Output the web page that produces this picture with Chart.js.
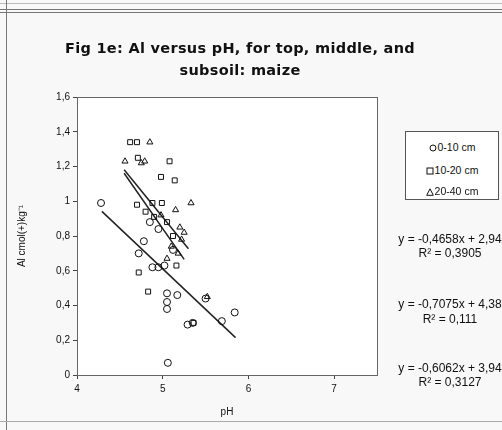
<!DOCTYPE html>
<html>
<head>
<meta charset="utf-8">
<script src="https://cdn.jsdelivr.net/npm/chart.js@4.4.1/dist/chart.umd.min.js"></script>
<style>
  body { margin: 0; background: #f8f8f8; font-family: "Liberation Sans", Arial, sans-serif; color: #111; }
  #wrap { position: relative; width: 502px; height: 430px; overflow: hidden; }
  canvas { position: absolute; left: 0; top: 0; }
  .t { position: absolute; white-space: nowrap; }
  .title { left: 0; width: 480px; text-align: center; font-family: "DejaVu Sans", sans-serif; font-size: 14.5px; font-weight: bold; letter-spacing: 0.3px; line-height: 16px; }
  .eq { width: 130px; text-align: center; font-size: 12px; line-height: 14px; }
  #legend { position: absolute; left: 405px; top: 131px; width: 92px; height: 67px; border: 1px solid #555; background: #fff; }
  #legend div { position: absolute; left: 0; width: 92px; text-align: center; font-size: 10.5px; line-height: 12px; white-space: nowrap; }
  #legend svg { vertical-align: -1px; margin-right: 1px; }
  .line { position: absolute; background: #777; }
</style>
</head>
<body>
<div id="wrap">
  <canvas id="c" width="502" height="430"></canvas>
  <div class="line" style="left:0;top:3px;width:502px;height:1px;background:#bbb"></div>
  <div class="line" style="left:0;top:9px;width:502px;height:1px"></div>
  <div class="line" style="left:0;top:12px;width:502px;height:1px"></div>
  <div class="line" style="left:6px;top:0;width:1px;height:430px"></div>
  <div class="line" style="left:0;top:421px;width:502px;height:1px;background:#aaa"></div>
  <div class="t title" style="top:40px">Fig 1e: Al versus pH, for top, middle, and</div>
  <div class="t title" style="top:62px">subsoil: maize</div>
  <div id="legend">
    <div style="top:9px"><svg width="8" height="8"><circle cx="4" cy="4" r="3" fill="none" stroke="#111"/></svg>0-10 cm</div>
    <div style="top:32px"><svg width="8" height="8"><rect x="1" y="1" width="6" height="6" fill="none" stroke="#111"/></svg>10-20 cm</div>
    <div style="top:53px"><svg width="8" height="8"><path d="M4 0.8 L7.3 7.3 L0.7 7.3 Z" fill="none" stroke="#111"/></svg>20-40 cm</div>
  </div>
  <div class="t eq" style="left:385px;top:232px">y = -0,4658x + 2,94</div>
  <div class="t eq" style="left:385px;top:246px">R² = 0,3905</div>
  <div class="t eq" style="left:385px;top:297px">y = -0,7075x + 4,38</div>
  <div class="t eq" style="left:385px;top:312px">R² = 0,111</div>
  <div class="t eq" style="left:385px;top:361px">y = -0,6062x + 3,94</div>
  <div class="t eq" style="left:385px;top:375px">R² = 0,3127</div>
</div>
<script>
// 0-10 cm (circles)
const topX = [4.28, 4.72, 4.78, 4.88, 4.95, 5.02, 5.05, 5.05, 5.05, 5.17, 5.29, 5.35, 5.50, 5.69, 5.84, 5.06, 4.85, 4.95, 5.12];
const topY = [0.99, 0.70, 0.77, 0.62, 0.62, 0.63, 0.47, 0.42, 0.38, 0.46, 0.29, 0.30, 0.44, 0.31, 0.36, 0.07, 0.88, 0.84, 0.72];
// 10-20 cm (squares)
const midX = [4.62, 4.70, 4.71, 5.08, 4.98, 5.14, 4.70, 4.88, 4.99, 4.72, 4.83, 5.16, 5.36, 4.90, 5.05, 5.12, 4.80];
const midY = [1.34, 1.34, 1.25, 1.23, 1.14, 1.12, 0.98, 0.99, 0.99, 0.59, 0.48, 0.63, 0.30, 0.91, 0.88, 0.80, 0.94];
// 20-40 cm (triangles)
const subX = [4.85, 4.56, 4.79, 4.75, 5.33, 5.15, 5.20, 5.22, 5.10, 5.18, 4.98, 5.25, 5.05, 5.52];
const subY = [1.34, 1.23, 1.23, 1.22, 0.99, 0.95, 0.85, 0.78, 0.74, 0.70, 0.92, 0.82, 0.67, 0.45];

// trendlines: y = a*x + b over the range of each series
const trendSlope = [-0.4658, -0.7075, -0.6062];
const trendIntercept = [2.94, 4.38, 3.94];
const trendFrom = [4.29, 4.55, 4.55];
const trendTo = [5.85, 5.25, 5.30];

const xTicks = [4, 5, 6, 7];

const pts = (xs, ys) => xs.map((x, i) => ({ x: x, y: ys[i] }));

function trend(i) {
  const f = x => trendSlope[i] * x + trendIntercept[i];
  return {
    type: 'line',
    data: [{ x: trendFrom[i], y: f(trendFrom[i]) }, { x: trendTo[i], y: f(trendTo[i]) }],
    borderColor: '#222',
    borderWidth: 1.5,
    pointRadius: 0,
    fill: false
  };
}

function marker(label, data, style) {
  return {
    label: label,
    data: data,
    pointStyle: style,
    pointRadius: 3.5,
    borderColor: '#111',
    backgroundColor: 'rgba(0,0,0,0)',
    borderWidth: 1
  };
}

// white plot area with a thin frame
const plotFrame = {
  id: 'plotFrame',
  beforeDatasetsDraw(chart) {
    const a = chart.chartArea, ctx = chart.ctx;
    ctx.save();
    ctx.strokeStyle = '#666';
    ctx.lineWidth = 1;
    ctx.strokeRect(a.left + 0.5, a.top + 0.5, a.right - a.left, a.bottom - a.top);
    ctx.restore();
  },
  beforeDraw(chart) {
    const a = chart.chartArea, ctx = chart.ctx;
    ctx.save();
    ctx.fillStyle = '#fff';
    ctx.fillRect(a.left, a.top, a.right - a.left, a.bottom - a.top);
    ctx.restore();
  }
};

const tickFont = { family: 'Liberation Sans', size: 10 };

new Chart(document.getElementById('c'), {
  type: 'scatter',
  data: {
    datasets: [
      marker('0-10 cm', pts(topX, topY), 'circle'),
      marker('10-20 cm', pts(midX, midY), 'rect'),
      marker('20-40 cm', pts(subX, subY), 'triangle'),
      trend(0), trend(1), trend(2)
    ]
  },
  options: {
    responsive: false,
    animation: false,
    layout: { padding: { left: 10, right: 125, top: 97, bottom: 0 } },
    plugins: { legend: { display: false }, tooltip: { enabled: false } },
    scales: {
      x: {
        type: 'linear',
        min: 4,
        max: 7.5,
        afterBuildTicks(s) { s.ticks = xTicks.map(v => ({ value: v })); },
        afterFit(s) { s.height = 55; },
        ticks: { color: '#111', font: tickFont, padding: 4 },
        grid: { drawOnChartArea: false, tickLength: 4, color: '#444' },
        border: { color: '#444' },
        title: { display: true, text: 'pH', color: '#111', font: tickFont, padding: { top: 4, bottom: 12 } }
      },
      y: {
        min: 0,
        max: 1.6,
        afterFit(s) { s.width = 67; },
        ticks: {
          stepSize: 0.2,
          color: '#111',
          font: tickFont,
          padding: 3,
          callback: v => String(Math.round(v * 10) / 10).replace('.', ',')
        },
        grid: { drawOnChartArea: false, tickLength: 4, color: '#444' },
        border: { color: '#444' },
        title: { display: true, text: 'Al cmol(+)kg⁻¹', color: '#111', font: { family: 'Liberation Sans', size: 10 }, padding: { top: 6, bottom: 0 } }
      }
    }
  },
  plugins: [plotFrame]
});
</script>
</body>
</html>
